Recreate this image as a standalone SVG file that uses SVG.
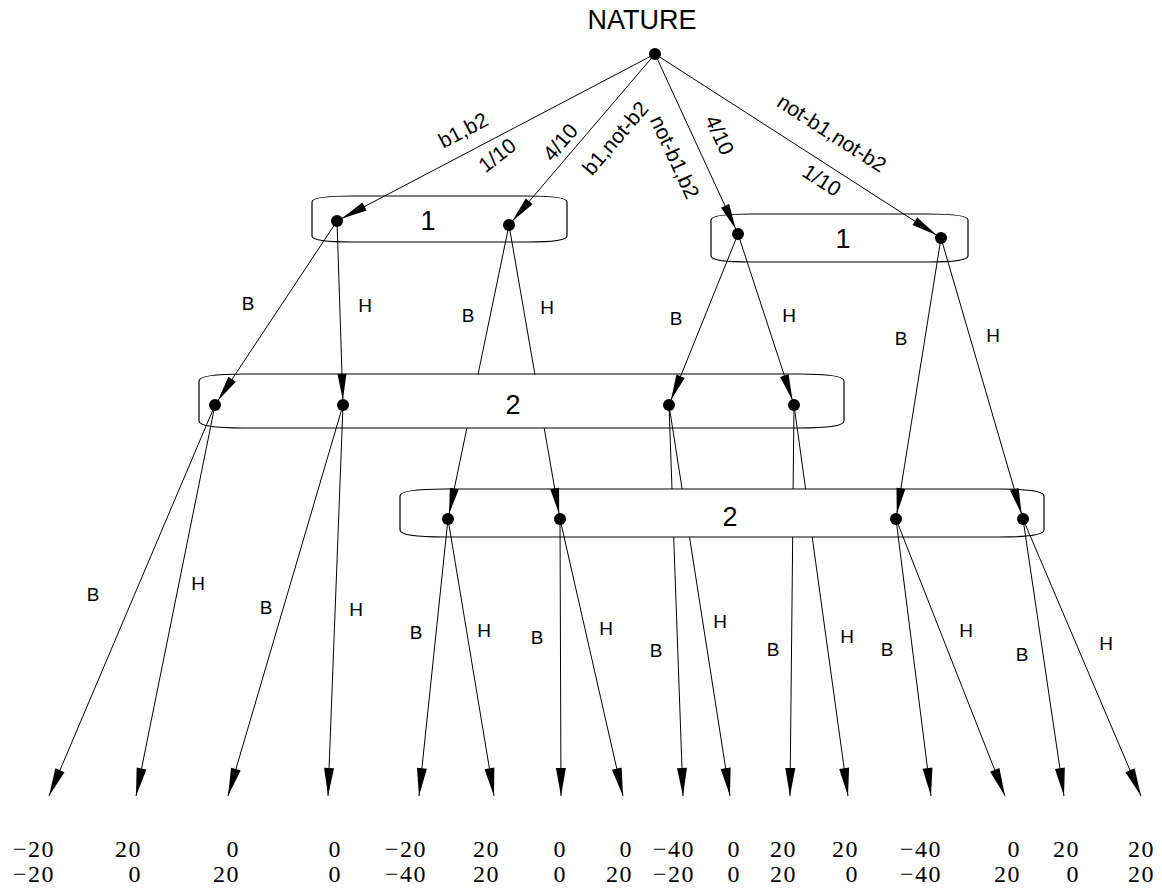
<svg xmlns="http://www.w3.org/2000/svg" width="1162" height="888" viewBox="0 0 1162 888">
<style>
.bg{fill:#fff}
.box{fill:none;stroke:#000;stroke-width:1.2}
.e{fill:none;stroke:#000;stroke-width:1}
.an{marker-end:url(#an)}
.at{marker-end:url(#at)}
.dot{fill:#000}
.lab{font-family:"Liberation Sans",Arial,sans-serif;font-size:21px;fill:#000;text-anchor:middle;dominant-baseline:central}
.act{font-family:"Liberation Sans",Arial,sans-serif;font-size:19px;fill:#000;text-anchor:middle;dominant-baseline:central}
.big{font-family:"Liberation Sans",Arial,sans-serif;font-size:27px;fill:#000;text-anchor:middle;dominant-baseline:central}
.nat{font-family:"Liberation Sans",Arial,sans-serif;font-size:27px;fill:#000;text-anchor:middle}
.pay{font-family:"Liberation Serif","Times New Roman",serif;font-size:24px;letter-spacing:1.5px;fill:#000;text-anchor:end}
</style>
<defs>
<marker id="an" markerUnits="userSpaceOnUse" markerWidth="40" markerHeight="12" refX="31" refY="4.5" orient="auto" overflow="visible"><path d="M0,0 L26,4.5 L0,9 Z" fill="#000"/></marker>
<marker id="at" markerUnits="userSpaceOnUse" markerWidth="40" markerHeight="12" refX="28" refY="5" orient="auto" overflow="visible"><path d="M0,0 L28,5 L0,10 Z" fill="#000"/></marker>
</defs>
<rect class="bg" x="0" y="0" width="1162" height="888"/>

<g id="infoset-1-left">
<path class="box" d="M352,196 L527,196 C555,196 567,198.4 567,202 L567,236 C567,239.6 555,242 527,242 L352,242 C324,242 312,239.6 312,236 L312,202 C312,198.4 324,196 352,196 Z"/>
<text class="big" x="428" y="221">1</text>
</g>
<g id="infoset-1-right">
<path class="box" d="M751,214 L928,214 C956,214 968,216.4 968,220 L968,256 C968,259.6 956,262 928,262 L751,262 C723,262 711,259.6 711,256 L711,220 C711,216.4 723,214 751,214 Z"/>
<text class="big" x="843" y="239">1</text>
</g>
<g id="infoset-2-upper">
<path class="box" d="M244,374 L799,374 C830.5,374 844,376.8 844,381 L844,421 C844,425.2 830.5,428 799,428 L244,428 C212.5,428 199,425.2 199,421 L199,381 C199,376.8 212.5,374 244,374 Z"/>
<text class="big" x="513" y="405">2</text>
</g>
<g id="infoset-2-lower">
<path class="box" d="M445,489 L999,489 C1030.5,489 1044,491.8 1044,496 L1044,530 C1044,534.2 1030.5,537 999,537 L445,537 C413.5,537 400,534.2 400,530 L400,496 C400,491.8 413.5,489 445,489 Z"/>
<text class="big" x="730" y="517">2</text>
</g>

<g id="connectors">
<path class="e an" d="M655,54 L337,221"/>
<path class="e an" d="M655,54 L509,225"/>
<path class="e an" d="M655,54 L738,234"/>
<path class="e an" d="M655,54 L941,238"/>
<path class="e an" d="M337,221 L215,405"/>
<path class="e an" d="M337,221 L343,405"/>
<path class="e an" d="M509,225 L477.9,375 M466.9,428 L448,519"/>
<path class="e an" d="M509,225 L535,375 M544.2,428 L560,519"/>
<path class="e an" d="M738,234 L669,405"/>
<path class="e an" d="M738,234 L794,405"/>
<path class="e an" d="M941,238 L896,519"/>
<path class="e an" d="M941,238 L1023,519"/>
<path class="e at" d="M215,405 L49,796"/>
<path class="e at" d="M215,405 L136,796"/>
<path class="e at" d="M343,405 L228,796"/>
<path class="e at" d="M343,405 L328,796"/>
<path class="e at" d="M448,519 L419,796"/>
<path class="e at" d="M448,519 L494,796"/>
<path class="e at" d="M560,519 L561,796"/>
<path class="e at" d="M560,519 L623,796"/>
<path class="e at" d="M669,405 L672,489 M673.7,537 L683,796"/>
<path class="e at" d="M669,405 L682.1,489 M689.5,537 L730,796"/>
<path class="e at" d="M794,405 L793.1,489 M792.7,537 L790,796"/>
<path class="e at" d="M794,405 L805.6,489 M812.2,537 L848,796"/>
<path class="e at" d="M896,519 L931,796"/>
<path class="e at" d="M896,519 L1005,796"/>
<path class="e at" d="M1023,519 L1064,796"/>
<path class="e at" d="M1023,519 L1141,796"/>
<text class="lab" transform="translate(463,130) rotate(-27.7)">b1,b2</text>
<text class="lab" transform="translate(497,155) rotate(-38)">1/10</text>
<text class="lab" transform="translate(560,142) rotate(-49.5)">4/10</text>
<text class="lab" transform="translate(615,138) rotate(-49.5)">b1,not-b2</text>
<text class="lab" transform="translate(675,157) rotate(65.2)">not-b1,b2</text>
<text class="lab" transform="translate(720,135) rotate(65.2)">4/10</text>
<text class="lab" transform="translate(832,133) rotate(32.8)">not-b1,not-b2</text>
<text class="lab" transform="translate(822,180) rotate(32.8)">1/10</text>
<text class="act" x="248" y="303">B</text>
<text class="act" x="365" y="305">H</text>
<text class="act" x="468" y="315">B</text>
<text class="act" x="547" y="307">H</text>
<text class="act" x="676" y="318">B</text>
<text class="act" x="789" y="315">H</text>
<text class="act" x="901" y="338">B</text>
<text class="act" x="993" y="335">H</text>
<text class="act" x="93" y="594">B</text>
<text class="act" x="198" y="583">H</text>
<text class="act" x="266" y="607">B</text>
<text class="act" x="356" y="609">H</text>
<text class="act" x="416" y="632">B</text>
<text class="act" x="484" y="630">H</text>
<text class="act" x="537" y="637">B</text>
<text class="act" x="606" y="628">H</text>
<text class="act" x="656" y="650">B</text>
<text class="act" x="720" y="621">H</text>
<text class="act" x="773" y="649">B</text>
<text class="act" x="847" y="636">H</text>
<text class="act" x="887" y="649">B</text>
<text class="act" x="966" y="630">H</text>
<text class="act" x="1022" y="654">B</text>
<text class="act" x="1106" y="643">H</text>
</g>

<g id="nature">
<text class="nat" x="642" y="29">NATURE</text>
<circle class="dot" cx="655" cy="54" r="6"/>
</g>
<g id="p1-a"><circle class="dot" cx="337" cy="221" r="6"/></g>
<g id="p1-b"><circle class="dot" cx="509" cy="225" r="6"/></g>
<g id="p1-c"><circle class="dot" cx="738" cy="234" r="6"/></g>
<g id="p1-d"><circle class="dot" cx="941" cy="238" r="6"/></g>
<g id="p2-a1"><circle class="dot" cx="215" cy="405" r="6"/></g>
<g id="p2-a2"><circle class="dot" cx="343" cy="405" r="6"/></g>
<g id="p2-a3"><circle class="dot" cx="669" cy="405" r="6"/></g>
<g id="p2-a4"><circle class="dot" cx="794" cy="405" r="6"/></g>
<g id="p2-b1"><circle class="dot" cx="448" cy="519" r="6"/></g>
<g id="p2-b2"><circle class="dot" cx="560" cy="519" r="6"/></g>
<g id="p2-b3"><circle class="dot" cx="896" cy="519" r="6"/></g>
<g id="p2-b4"><circle class="dot" cx="1023" cy="519" r="6"/></g>

<g id="t1"><text class="pay" x="55" y="857">−20</text><text class="pay" x="55" y="882">−20</text></g>
<g id="t2"><text class="pay" x="142" y="857">20</text><text class="pay" x="142" y="882">0</text></g>
<g id="t3"><text class="pay" x="240" y="857">0</text><text class="pay" x="240" y="882">20</text></g>
<g id="t4"><text class="pay" x="342" y="857">0</text><text class="pay" x="342" y="882">0</text></g>
<g id="t5"><text class="pay" x="427" y="857">−20</text><text class="pay" x="427" y="882">−40</text></g>
<g id="t6"><text class="pay" x="500" y="857">20</text><text class="pay" x="500" y="882">20</text></g>
<g id="t7"><text class="pay" x="567" y="857">0</text><text class="pay" x="567" y="882">0</text></g>
<g id="t8"><text class="pay" x="633" y="857">0</text><text class="pay" x="633" y="882">20</text></g>
<g id="t9"><text class="pay" x="695" y="857">−40</text><text class="pay" x="695" y="882">−20</text></g>
<g id="t10"><text class="pay" x="741" y="857">0</text><text class="pay" x="741" y="882">0</text></g>
<g id="t11"><text class="pay" x="797" y="857">20</text><text class="pay" x="797" y="882">20</text></g>
<g id="t12"><text class="pay" x="859" y="857">20</text><text class="pay" x="859" y="882">0</text></g>
<g id="t13"><text class="pay" x="942" y="857">−40</text><text class="pay" x="942" y="882">−40</text></g>
<g id="t14"><text class="pay" x="1021" y="857">0</text><text class="pay" x="1021" y="882">20</text></g>
<g id="t15"><text class="pay" x="1080" y="857">20</text><text class="pay" x="1080" y="882">0</text></g>
<g id="t16"><text class="pay" x="1155" y="857">20</text><text class="pay" x="1155" y="882">20</text></g>
</svg>
